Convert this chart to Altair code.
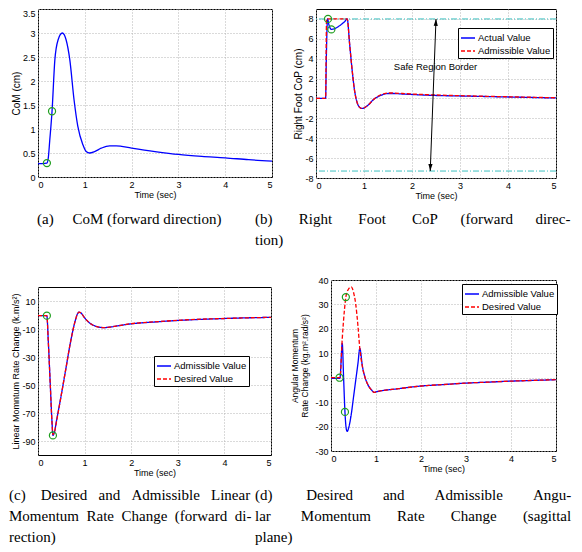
import altair as alt
import pandas as pd

BLUE = "#0000ff"
RED = "#ff0000"
GREEN = "#1f9e1f"
CYAN = "#3cc0c0"
SANS = "Liberation Sans"
SERIF = "Liberation Serif"

# ---------------- (a) CoM (forward direction) ----------------
a_t = [0, 0.1, 0.19, 0.22, 0.25, 0.3, 0.36, 0.43, 0.52, 0.6, 0.68, 0.77, 0.85, 0.96,
       1.03, 1.1, 1.21, 1.35, 1.53, 1.67, 2.0, 2.5, 3.0, 3.5, 4.0, 4.5, 5.0]
a_com = [0.28, 0.28, 0.29, 0.4, 0.75, 1.37, 2.44, 2.86, 3.0, 2.86, 2.44, 1.61, 1.06, 0.67,
         0.53, 0.5, 0.53, 0.6, 0.65, 0.65, 0.6, 0.53, 0.47, 0.43, 0.4, 0.36, 0.33]
a_mark_t = [0.19, 0.3]
a_mark_v = [0.29, 1.37]

# ---------------- (b) Right foot CoP ----------------
b_t_act = [0, 0.2, 0.215, 0.24, 0.27, 0.32, 0.4, 0.5, 0.6, 0.65, 0.7, 0.75, 0.8, 0.85, 0.9,
           0.95, 1.0, 1.1, 1.2, 1.3, 1.4, 1.5, 1.6, 1.8, 2.0, 2.5, 3.0, 3.5, 4.0, 4.5, 5.0]
b_act = [0, 0, 4, 8, 7.4, 6.95, 7.05, 7.35, 7.75, 8.0, 5.5, 3.0, 0.9, -0.3, -0.85,
         -1.0, -0.95, -0.6, -0.1, 0.2, 0.4, 0.5, 0.5, 0.45, 0.4, 0.3, 0.25, 0.2, 0.15, 0.1, 0.05]
b_t_adm = [0, 0.2, 0.22, 0.65, 0.7, 0.75, 0.8, 0.85, 0.9, 0.95, 1.0, 1.1, 1.2, 1.3, 1.4,
           1.5, 1.6, 1.8, 2.0, 2.5, 3.0, 3.5, 4.0, 4.5, 5.0]
b_adm = [0, 0, 8, 8, 5.5, 3.0, 0.9, -0.3, -0.85, -1.0, -0.95, -0.6, -0.1, 0.25, 0.45,
         0.55, 0.55, 0.5, 0.45, 0.35, 0.28, 0.22, 0.17, 0.12, 0.07]
b_mark_t = [0.25, 0.32]
b_mark_v = [8.0, 6.95]
b_border = [8.0, -7.3]
b_arrow = {"t": [2.5], "v": [8.0], "t2": [2.38], "v2": [-7.3]}
b_label = {"t": [2.49], "v": [3.2], "label": ["Safe Region Border"]}
b_series = ["Actual Value", "Admissible Value"]

# ---------------- (c) Linear momentum rate change ----------------
c_t = [0, 0.19, 0.22, 0.26, 0.3, 0.32, 0.35, 0.4, 0.5, 0.6, 0.7, 0.8, 0.85, 0.88, 0.92, 1.0,
       1.1, 1.2, 1.3, 1.4, 1.5, 1.7, 2.0, 2.5, 3.0, 3.5, 4.0, 4.5, 5.0]
c_adm = [-0.5, -0.5, -18, -47, -76, -86, -84, -75, -57, -38, -19, -4, 1, 2, 1.5, -2,
         -5.5, -7.5, -8.6, -9, -8.8, -7.8, -6.3, -5, -3.9, -3.1, -2.5, -2, -1.7]
c_des = [-0.5, -0.5, -18.5, -47.5, -76.5, -85.5, -84, -75.5, -57, -38, -19, -4, 1, 2, 1.5, -2,
         -5.5, -7.6, -8.6, -9, -8.8, -7.8, -6.2, -4.9, -3.8, -3.0, -2.5, -2, -1.7]
c_mark_t = [0.19, 0.32]
c_mark_v = [-0.5, -86]
c_series = ["Admissible Value", "Desired Value"]

# ---------------- (d) Angular momentum rate change ----------------
d_t_adm = [0, 0.18, 0.2, 0.25, 0.28, 0.31, 0.34, 0.36, 0.4, 0.45, 0.5, 0.55, 0.6, 0.64, 0.7,
           0.75, 0.81, 0.9, 0.96, 1.0, 1.5, 2.0, 2.5, 3.0, 3.5, 4.0, 4.5, 5.0]
d_adm = [-0.3, -0.3, 0, 14, 0, -14, -21, -22, -20, -15, -8, -1, 6, 12, 4.4,
         0.5, -2.5, -5, -6, -5.8, -4.5, -3.4, -2.8, -2.2, -1.8, -1.4, -1.1, -0.8]
d_t_des = [0, 0.18, 0.2, 0.25, 0.3, 0.33, 0.38, 0.45, 0.5, 0.55, 0.6, 0.64, 0.7, 0.75, 0.81,
           0.9, 0.96, 1.0, 1.5, 2.0, 2.5, 3.0, 3.5, 4.0, 4.5, 5.0]
d_des = [0, 0, 0, 16, 28, 33, 36, 37.2, 35, 30, 21, 12, 4.4, 0.5, -2.5,
         -5, -6, -5.8, -4.5, -3.4, -2.8, -2.2, -1.8, -1.4, -1.1, -0.8]
d_mark_t = [0.19, 0.33, 0.31]
d_mark_v = [0, 33, -14]
d_series = ["Admissible Value", "Desired Value"]

x_ticks = [0, 1, 2, 3, 4, 5]

# ---------------- captions (justified with no-break spaces) ----------------
NB = "\u00a0"
TW = {"(": 333, ")": 333, "-": 333, " ": 250, ".": 250, "a": 444, "b": 500, "c": 444,
      "d": 500, "e": 444, "f": 333, "g": 500, "h": 500, "i": 278, "j": 278, "k": 500,
      "l": 278, "m": 778, "n": 500, "o": 500, "p": 500, "r": 333, "s": 389, "t": 278,
      "u": 500, "w": 722, "A": 722, "C": 667, "D": 722, "F": 556, "L": 611, "M": 889,
      "P": 556, "R": 667}


def tw(s):
    return sum(TW.get(ch, 500) for ch in s) * 15 / 1000


def justify(line, target):
    words = line.split(" ")
    gaps = len(words) - 1
    free = target - sum(tw(w) for w in words)
    units = max(gaps, round(free / 3.75))
    base, extra = divmod(units, gaps)
    out = words[0]
    for i, w in enumerate(words[1:]):
        out += NB * (base + (1 if i < extra else 0)) + w
    return out


cap_a = ["(a)" + NB * 5 + "CoM" + NB + "(forward" + NB + "direction)"]
cap_b = [justify("(b) Right Foot CoP (forward direc-", 314), "tion)"]
cap_c = [justify("(c) Desired and Admissible Linear", 243),
         justify("Momentum Rate Change (forward di-", 243), "rection)"]
cap_d = [justify("(d) Desired and Admissible Angu-", 316),
         justify("lar Momentum Rate Change (sagittal", 316), "plane)"]


def xenc():
    return alt.X("t:Q", scale=alt.Scale(domain=[0, 5], nice=False, zero=False),
                 axis=alt.Axis(values=x_ticks, title="Time (sec)", titlePadding=1))


def yenc(field, domain, values, title, **kw):
    return alt.Y(field + ":Q", scale=alt.Scale(domain=domain, nice=False, zero=False),
                 axis=alt.Axis(values=values, title=title, format=".1~f", **kw))


def caption(lines, x, y):
    return alt.Chart(pd.DataFrame({"k": [0]})).mark_text(
        align="left", baseline="top", font=SERIF, fontSize=15, lineHeight=21, color="black"
    ).encode(x=alt.value(x), y=alt.value(y), text=alt.value(lines))


def markers(ts, vs, field, x, y):
    return alt.Chart(pd.DataFrame({"t": ts, field: vs})).mark_point(
        shape="circle", filled=False, color=GREEN, size=50, strokeWidth=1.2, opacity=1
    ).encode(x=x, y=y)


def legend(lx, ly):
    return alt.Legend(orient="none", legendX=lx, legendY=ly, strokeColor="black",
                      fillColor="white", padding=2, rowPadding=0, symbolType="stroke",
                      symbolSize=196, symbolStrokeWidth=1.3, labelFont=SANS,
                      labelFontSize=9.5, labelColor="black", labelOffset=2, cornerRadius=0)


def series(dfs, field, sfield, names, x, y, lx, ly):
    color = alt.Color(sfield + ":N", scale=alt.Scale(domain=names, range=[BLUE, RED]),
                      legend=legend(lx, ly), title=None)
    dash = alt.StrokeDash(sfield + ":N", scale=alt.Scale(domain=names, range=[[1, 0], [4, 2]]),
                          legend=legend(lx, ly), title=None)
    return [alt.Chart(df).mark_line(interpolate="monotone", strokeWidth=1.3).encode(
        x=x, y=y, color=color, strokeDash=dash) for df in dfs]


# ---------------- panel (a) ----------------
xa = xenc()
ya = yenc("va", [0, 3.5], [0, 0.5, 1, 1.5, 2, 2.5, 3, 3.5], "CoM (cm)", titleFontSize=10,
          titlePadding=1,
          labelBaseline={"condition": {"test": "datum.value >= 3.5", "value": "top"},
                         "value": "middle"})
pa = alt.layer(
    alt.Chart(pd.DataFrame({"t": a_t, "va": a_com})).mark_line(
        interpolate="monotone", color=BLUE, strokeWidth=1.3).encode(x=xa, y=ya),
    markers(a_mark_t, a_mark_v, "va", xa, ya),
    caption(cap_a, -1, 203),
).properties(width=234, height=168)

# ---------------- panel (b) ----------------
xb = xenc()
yb = yenc("vb", [-8, 9], [-8, -6, -4, -2, 0, 2, 4, 6, 8], "Right Foot CoP (cm)",
          titleFontSize=10, titlePadding=1)
df_b1 = pd.DataFrame({"t": b_t_act, "vb": b_act, "sb": b_series[0]})
df_b2 = pd.DataFrame({"t": b_t_adm, "vb": b_adm, "sb": b_series[1]})
pb = alt.layer(
    alt.Chart(pd.DataFrame({"vb": b_border})).mark_rule(
        color=CYAN, strokeDash=[6, 2, 1, 2], strokeWidth=1).encode(y=yb),
    *series([df_b1, df_b2], "vb", "sb", b_series, xb, yb, 142, 19),
    markers(b_mark_t, b_mark_v, "vb", xb, yb),
    alt.Chart(pd.DataFrame({"t": b_arrow["t"], "vb": b_arrow["v"], "t2": b_arrow["t2"],
                            "v2": b_arrow["v2"]})).mark_rule(color="black", strokeWidth=1).encode(
        x=xb, y=yb, x2="t2:Q", y2="v2:Q"),
    alt.Chart(pd.DataFrame({"t": b_arrow["t"], "vb": b_arrow["v"]})).mark_point(
        shape="M0,0L-0.3,1L0.3,1Z", filled=True, color="black", size=196, opacity=1,
        angle=2).encode(x=xb, y=yb),
    alt.Chart(pd.DataFrame({"t": b_arrow["t2"], "vb": b_arrow["v2"]})).mark_point(
        shape="M0,0L-0.3,-1L0.3,-1Z", filled=True, color="black", size=196, opacity=1,
        angle=2).encode(x=xb, y=yb),
    alt.Chart(pd.DataFrame({"t": b_label["t"], "vb": b_label["v"], "label": b_label["label"]})).mark_text(
        font=SANS, fontSize=9.5, color="black", align="center", baseline="middle").encode(
        x=xb, y=yb, text="label:N"),
    caption(cap_b, -61, 203),
).properties(width=240, height=169)

# ---------------- panel (c) ----------------
xc = xenc()
yc = yenc("vc", [-100, 20], [-90, -70, -50, -30, -10, 10],
          "Linear Momntum Rate Change (k.m/s\u00b2)", titlePadding=1)
df_c1 = pd.DataFrame({"t": c_t, "vc": c_adm, "sc": c_series[0]})
df_c2 = pd.DataFrame({"t": c_t, "vc": c_des, "sc": c_series[1]})
pc = alt.layer(
    *series([df_c1, df_c2], "vc", "sc", c_series, xc, yc, 116, 69),
    markers(c_mark_t, c_mark_v, "vc", xc, yc),
    caption(cap_c, -29, 201),
    alt.Chart(pd.DataFrame({"k": [0]})).mark_text(
        text=".", fontSize=2, opacity=0, baseline="top", align="left").encode(
        x=alt.value(5), y=alt.value(-11)),
).properties(width=233, height=168)

# ---------------- panel (d) ----------------
xd = xenc()
yd = yenc("vd", [-30, 40], [-30, -20, -10, 0, 10, 20, 30, 40],
          ["Angular Momentum", "Rate Change (kg.m\u00b2.rad/s\u00b2)"],
          titleFontSize=8.5, titleLineHeight=10, titlePadding=5)
df_d1 = pd.DataFrame({"t": d_t_adm, "vd": d_adm, "sd": d_series[0]})
df_d2 = pd.DataFrame({"t": d_t_des, "vd": d_des, "sd": d_series[1]})
pd_ = alt.layer(
    *series([df_d1, df_d2], "vd", "sd", d_series, xd, yd, 131, 4),
    markers(d_mark_t, d_mark_v, "vd", xd, yd),
    caption(cap_d, -76, 208),
).properties(width=225, height=171)

PAD = {"left": 0, "top": 0, "right": 0, "bottom": 0}

chart = alt.concat(
    pa, pb, pc, pd_, columns=2, spacing={"row": 26, "column": -22},
    align="none", bounds="full", padding=PAD,
).resolve_scale(
    x="independent", y="independent", color="independent", strokeDash="independent"
).configure(
    padding=PAD,
    locale={"number": {"decimal": ".", "thousands": ",", "grouping": [3],
                       "currency": ["$", ""], "minus": "-"}},
).configure_view(
    stroke="black", strokeWidth=1
).configure_axis(
    labelFont=SANS, labelFontSize=9, labelColor="black", titleFont=SANS, titleFontSize=9,
    titleFontWeight="normal", titleColor="black", grid=True, gridColor="#b4b4b4",
    gridDash=[1, 2], gridWidth=1, domain=False, ticks=False, labelPadding=3
)

chart.save("out.html", embed_options={"renderer": "svg", "actions": False})
